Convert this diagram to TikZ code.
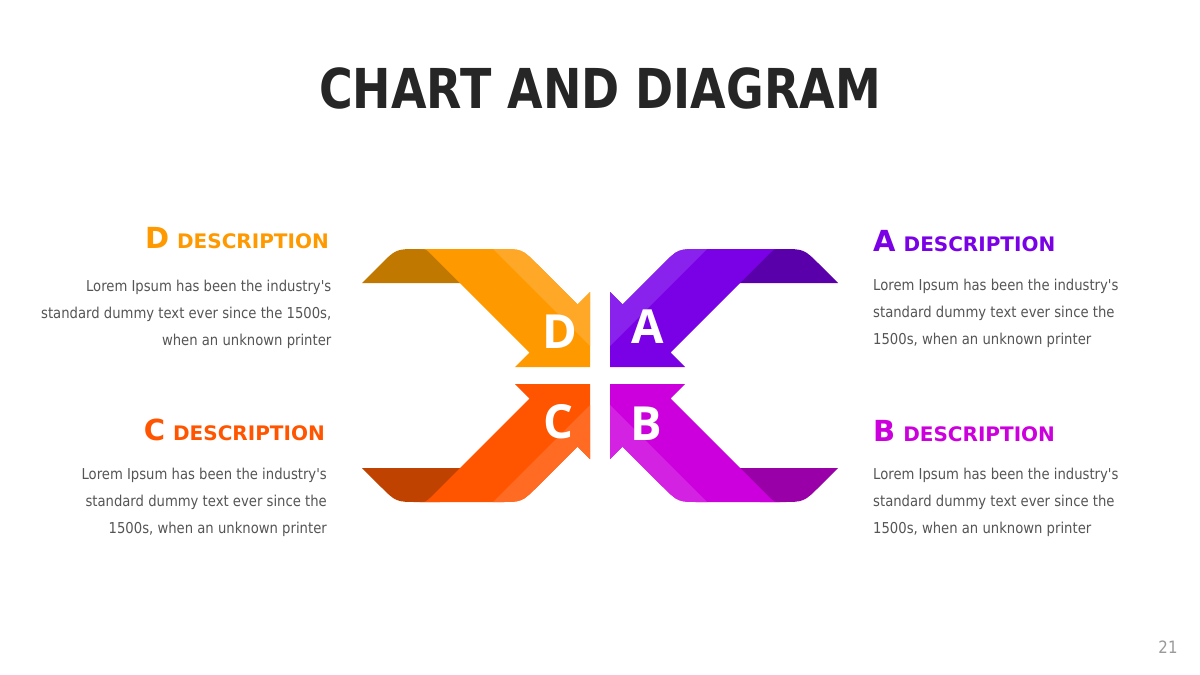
\documentclass[tikz,border=0pt]{standalone}
\usepackage{fontspec}
\setmainfont{DejaVu Sans}[FakeStretch=0.88, Ligatures=TeXOff]
\newfontfamily\titlefont{DejaVu Sans}[FakeStretch=0.835]
\newfontfamily\headfont{DejaVu Sans}
\newfontfamily\letterfont{Open Sans}
\definecolor{titlecol}{HTML}{262626}
\definecolor{bodycol}{HTML}{555555}
\definecolor{pagecol}{HTML}{9A9A9A}
\definecolor{dmain}{HTML}{FF9900}
\definecolor{dlight}{HTML}{FFA726}
\definecolor{ddark}{HTML}{C07800}
\definecolor{amain}{HTML}{7A00E6}
\definecolor{alight}{HTML}{8A22EE}
\definecolor{adark}{HTML}{5A00AA}
\definecolor{cmain}{HTML}{FF5500}
\definecolor{clight}{HTML}{FF6B22}
\definecolor{cdark}{HTML}{BF4200}
\definecolor{bmain}{HTML}{CC00DD}
\definecolor{blight}{HTML}{D422E2}
\definecolor{bdark}{HTML}{9A00A8}
\newcommand\ribbonmain{(460,283) -- (432,255) .. controls (426,249) .. (420,249) -- (500,249) .. controls (522,249) .. (537.6,264.6) -- (577.5,304.5) -- (590,292) -- (590,367) -- (515,367) -- (529.5,352.5) -- cycle}
\newcommand\ribbon[3]{%
  \fill[#1] (362,283) -- (380,265) .. controls (396,249) .. (418,249) -- (440,249) -- (474,283) -- cycle;
  \fill[#2] \ribbonmain;
  \begin{scope}
    \clip \ribbonmain;
    \fill[#3] (444,200) -- (700,200) -- (700,456) -- cycle;
  \end{scope}}
\newcommand\headtext[1]{\headfont\bfseries\fontsize{29}{32}\selectfont #1\hspace{8pt}\fontsize{20}{24}\selectfont DESCRIPTION}
\tikzset{
  heading/.style={inner sep=0pt},
  body/.style={font=\fontsize{15}{27}\selectfont, text=bodycol, inner sep=0pt},
  letter/.style={font=\letterfont\bfseries\fontsize{47}{50}\selectfont, text=white, inner sep=0pt}
}
\begin{document}
\begin{tikzpicture}[x=1pt,y=-1pt]
\useasboundingbox (0,0) rectangle (1200,675);
\fill[white] (0,0) rectangle (1200,675);
\node[font=\titlefont\bfseries\fontsize{55}{60}\selectfont, text=titlecol] (title) at (600,88) {CHART AND DIAGRAM};

% ribbons
\begin{scope}\ribbon{ddark}{dmain}{dlight}\end{scope}
\begin{scope}[shift={(1200,0)}, xscale=-1]\ribbon{adark}{amain}{alight}\end{scope}
\begin{scope}[shift={(0,751)}, yscale=-1]\ribbon{cdark}{cmain}{clight}\end{scope}
\begin{scope}[shift={(1200,751)}, xscale=-1, yscale=-1]\ribbon{bdark}{bmain}{blight}\end{scope}

\node[letter] (dl) at (560,332) {D};
\node[letter] (al) at (648,327) {A};
\node[letter] (cl) at (558,422) {C};
\node[letter] (bl) at (646,424) {B};

% headings
\node[heading, anchor=base east, text=dmain] (dh) at (329,248.5) {\headtext{D}};
\node[heading, anchor=base west, text=amain] (ah) at (873,251) {\headtext{A}};
\node[heading, anchor=base east, text=cmain] (ch) at (325,440) {\headtext{C}};
\node[heading, anchor=base west, text=bmain] (bh) at (873,441.5) {\headtext{B}};

% bodies (base anchor = last line)
\node[body, anchor=base east, align=right] (db) at (331.5,345) {Lorem Ipsum has been the industry's\\standard dummy text ever since the 1500s,\\when an unknown printer};
\node[body, anchor=base west, align=left] (ab) at (873,344) {Lorem Ipsum has been the industry's\\standard dummy text ever since the\\1500s, when an unknown printer};
\node[body, anchor=base east, align=right] (cb) at (327,533) {Lorem Ipsum has been the industry's\\standard dummy text ever since the\\1500s, when an unknown printer};
\node[body, anchor=base west, align=left] (bb) at (873,533) {Lorem Ipsum has been the industry's\\standard dummy text ever since the\\1500s, when an unknown printer};

\node[font=\fontsize{17}{20}\selectfont, text=pagecol] (page) at (1168,647) {21};
\end{tikzpicture}
\end{document}
